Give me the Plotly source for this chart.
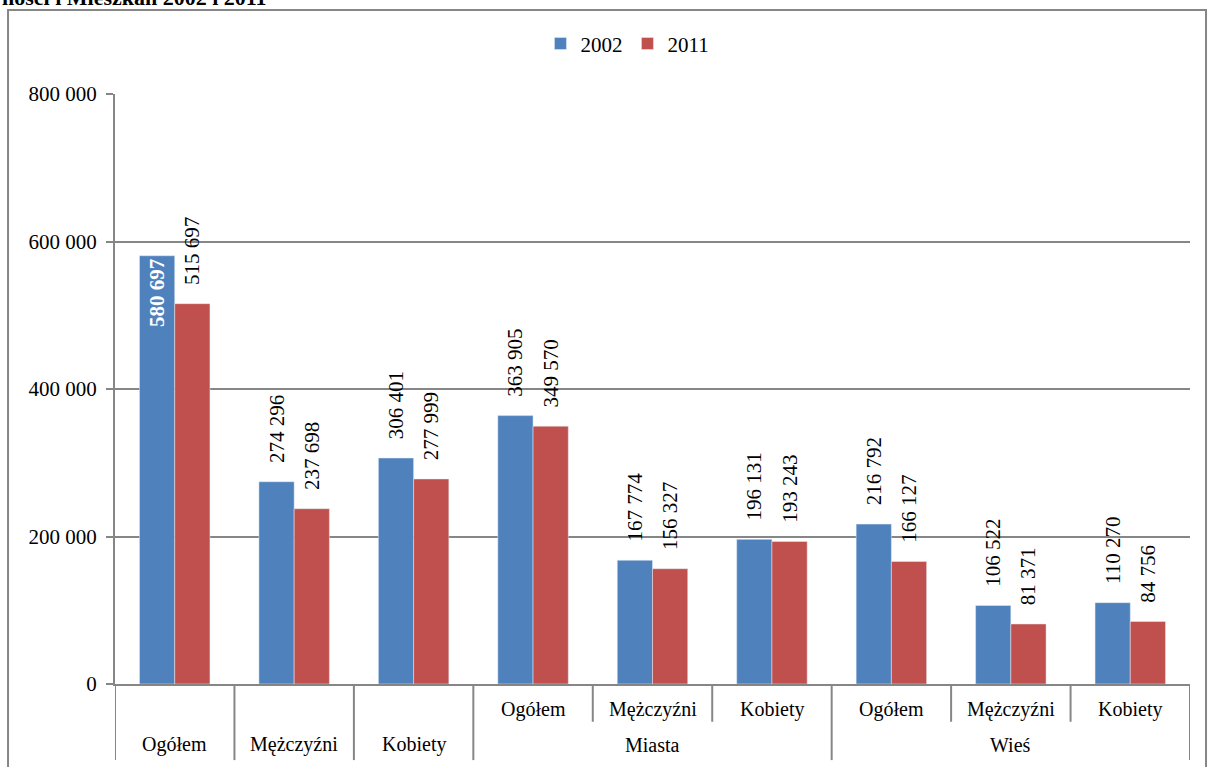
import plotly.graph_objects as go

sub_labels = ["Ogółem", "Mężczyźni", "Kobiety",
              "Ogółem", "Mężczyźni", "Kobiety",
              "Ogółem", "Mężczyźni", "Kobiety"]
group_labels = ["Miasta", "Wieś"]
years = ["2002", "2011"]
vals_2002 = [580697, 274296, 306401, 363905, 167774, 196131, 216792, 106522, 110270]
vals_2011 = [515697, 237698, 277999, 349570, 156327, 193243, 166127, 81371, 84756]
y_ticks = [0, 200000, 400000, 600000, 800000]

BLUE = "#4F81BD"
RED = "#C0504D"
GRAY = "#868686"
FONT = "'Liberation Serif', Tinos, 'DejaVu Serif', serif"

def fmt(v):
    return f"{v:,}".replace(",", " ")

xs = list(range(len(sub_labels)))
NB = "\u00a0\u00a0\u00a0"

def labels(vals, inside_first=False):
    out = []
    for i, v in enumerate(vals):
        if inside_first and i == 0:
            out.append("<b>" + fmt(v) + "</b>")
        else:
            out.append(NB + fmt(v))
    return out

fig = go.Figure()
fig.add_trace(go.Bar(
    x=xs, y=vals_2002, name=years[0], marker_color=BLUE,
    text=labels(vals_2002, True),
    textposition=["inside"] + ["outside"] * 8,
    insidetextanchor="end",
    textangle=-90,
    textfont=dict(family=FONT, size=21, color=["white"] + ["black"] * 8),
    constraintext="none", cliponaxis=False,
))
fig.add_trace(go.Bar(
    x=xs, y=vals_2011, name=years[1], marker_color=RED,
    text=labels(vals_2011),
    textposition="outside",
    textangle=-90,
    textfont=dict(family=FONT, size=21, color="black"),
    constraintext="none", cliponaxis=False,
))

shapes = []
# outer frame
shapes.append(dict(type="rect", xref="paper", yref="paper",
                   x0=-0.0995, x1=1.0149, y0=-0.3, y1=1.1424,
                   line=dict(color=GRAY, width=2), fillcolor="rgba(0,0,0,0)", layer="below"))
# category separators
long_b = [-0.5, 0.5, 1.5, 2.5, 5.5, 8.5]
short_b = [3.5, 4.5, 6.5, 7.5]
for b in long_b:
    shapes.append(dict(type="line", xref="x", yref="paper", x0=b, x1=b, y0=0, y1=-0.129,
                       line=dict(color=GRAY, width=2)))
for b in short_b:
    shapes.append(dict(type="line", xref="x", yref="paper", x0=b, x1=b, y0=0, y1=-0.064,
                       line=dict(color=GRAY, width=2)))

annotations = []
for i, lab in enumerate(sub_labels):
    yv = -0.103 if i < 3 else -0.044
    annotations.append(dict(x=i, y=yv, xref="x", yref="paper", text=lab, showarrow=False,
                            font=dict(family=FONT, size=20, color="black"),
                            xanchor="center", yanchor="middle"))
for g, cx in zip(group_labels, [4, 7]):
    annotations.append(dict(x=cx, y=-0.103, xref="x", yref="paper", text=g, showarrow=False,
                            font=dict(family=FONT, size=20, color="black"),
                            xanchor="center", yanchor="middle"))
annotations.append(dict(x=-0.107, y=1.139, xref="paper", yref="paper",
                        text="<b>ności i Mieszkań 2002 i 2011</b>", showarrow=False,
                        font=dict(family=FONT, size=22, color="black"),
                        xanchor="left", yanchor="bottom"))

fig.update_layout(
    width=1209, height=767,
    margin=dict(l=115, r=19, t=94, b=83),
    paper_bgcolor="white", plot_bgcolor="white",
    barmode="group", bargap=0.41, bargroupgap=0,
    showlegend=True,
    legend=dict(orientation="h", x=0.4767, xanchor="center", y=1.085, yanchor="middle",
                font=dict(family=FONT, size=21, color="black"),
                itemwidth=30, tracegroupgap=0),
    font=dict(family=FONT, size=21, color="black"),
    shapes=shapes, annotations=annotations,
    xaxis=dict(range=[-0.5, 8.5], showticklabels=False, showgrid=False, zeroline=False,
               showline=True, linecolor=GRAY, linewidth=2, ticks=""),
    yaxis=dict(range=[0, 800000], tickvals=y_ticks, ticktext=[fmt(v) for v in y_ticks],
               showgrid=True, gridcolor=GRAY, gridwidth=1.5, zeroline=False,
               showline=True, linecolor=GRAY, linewidth=2,
               ticks="outside", ticklen=7, tickcolor=GRAY, tickwidth=2,
               ticklabelstandoff=5,
               tickfont=dict(family=FONT, size=21, color="black")),
)

fig.write_html("out.html", config={"displayModeBar": False},
               post_script="document.body.style.margin='0';document.body.style.overflow='hidden';")
